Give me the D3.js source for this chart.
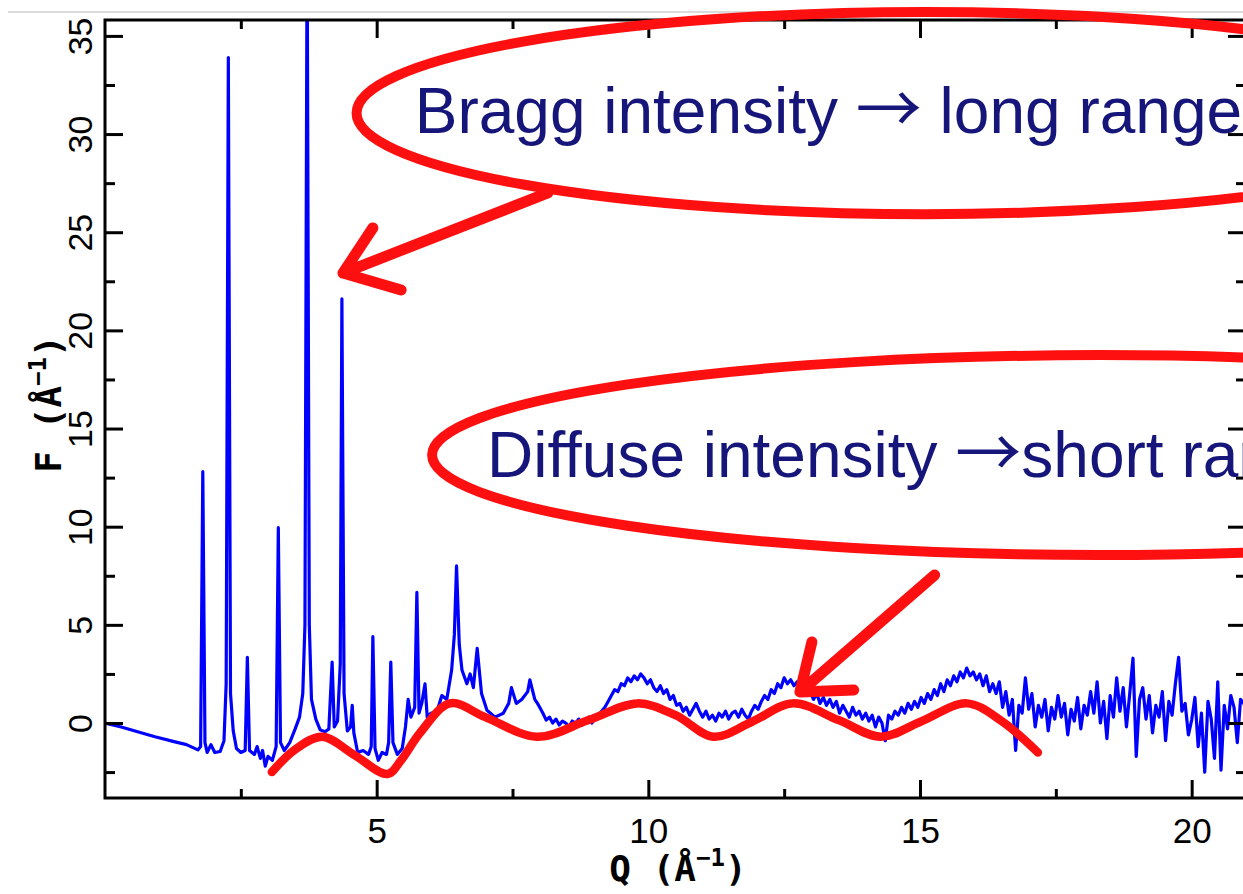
<!DOCTYPE html>
<html>
<head>
<meta charset="utf-8">
<script src="https://cdn.jsdelivr.net/npm/d3@7"></script>
<style>
  html, body { margin: 0; padding: 0; background: #fff; }
  svg { display: block; }
</style>
</head>
<body>
<div id="chart"></div>
<script>
// ---- data ----

// structured low-Q part: [Q, F] pairs (Bragg peaks + baseline)
const lowQ = [
  [0.00, 0.00], [0.30, -0.20], [0.60, -0.45], [0.92, -0.70], [1.29, -0.96], [1.50, -1.10], [1.71, -1.37], [1.76, -1.20],
  [1.80, 12.8], [1.84, -1.00], [1.88, -1.50], [1.95, -1.10], [2.02, -1.50], [2.12, -1.45], [2.19, -0.90], [2.23, 2.0],
  [2.27, 33.9], [2.31, 1.5], [2.36, -0.40], [2.42, -1.30], [2.50, -1.50], [2.58, -1.40], [2.62, 3.35], [2.66, -1.40],
  [2.75, -1.60], [2.80, -1.20], [2.86, -1.80], [2.90, -1.40], [2.95, -2.20], [3.00, -1.70], [3.08, -1.90], [3.15, -1.20],
  [3.19, 9.95], [3.23, -1.00], [3.30, -1.40], [3.40, -1.00], [3.50, -0.30], [3.58, 0.30], [3.64, 1.50], [3.68, 5.0],
  [3.72, 40.0], [3.76, 5.0], [3.80, 1.20], [3.88, 0.20], [3.96, -0.35], [4.05, -0.45], [4.12, -0.30], [4.18, 3.10],
  [4.22, -0.20], [4.28, 0.10], [4.33, 3.0], [4.36, 21.6], [4.40, 1.50], [4.46, -0.40], [4.52, -0.20], [4.55, 0.90],
  [4.58, -0.50], [4.65, -1.50], [4.75, -1.40], [4.85, -1.60], [4.90, -1.20], [4.93, 4.40], [4.97, -1.30], [5.03, -1.90],
  [5.10, -1.50], [5.18, -1.60], [5.22, -1.00], [5.26, 3.10], [5.30, -1.00], [5.38, -1.60], [5.47, -1.30], [5.53, -0.20],
  [5.58, 1.20], [5.63, 0.30], [5.70, 0.80], [5.74, 6.65], [5.78, 0.50], [5.83, 1.00], [5.89, 2.00], [5.93, 0.30],
  [6.00, 0.50], [6.10, 0.50], [6.20, 1.40], [6.29, 1.20], [6.38, 2.70], [6.43, 4.5], [6.47, 8.0], [6.52, 4.0],
  [6.57, 2.70], [6.66, 2.00], [6.72, 2.50], [6.78, 1.80], [6.85, 3.80], [6.93, 1.50], [7.03, 0.65], [7.18, 0.30],
  [7.33, 0.50], [7.43, 1.0], [7.48, 1.80], [7.57, 1.00], [7.67, 1.20], [7.78, 1.6], [7.82, 2.20], [7.91, 1.20],
  [7.96, 1.0]
];

// noisy high-Q part: F values sampled every hiQStep from hiQStart
const hiQStart = 8.0;
const hiQStep = 0.06;
const hiQValues = [
  0.8, 0.5, 0.15, 0.3, 0.0, 0.2, -0.1, 0.1, 0.0, -0.2,
  0.1, 0.0, 0.2, -0.1, 0.1, 0.3, 0.0, 0.2, 0.4, 0.6,
  0.8, 1.1, 1.4, 1.7, 1.6, 2.0, 1.9, 2.3, 2.1, 2.4,
  2.2, 2.5, 2.3, 2.0, 2.2, 1.8, 1.6, 1.9, 1.5, 1.7,
  1.2, 1.4, 0.9, 1.0, 0.6, 0.8, 0.4, 0.7, 1.0, 0.6,
  0.3, 0.6, 0.2, 0.4, 0.1, 0.5, 0.3, 0.6, 0.2, 0.5,
  0.6, 0.3, 0.7, 0.4, 0.2, 0.6, 0.9, 0.7, 1.1, 1.4,
  1.2, 1.7, 1.5, 2.0, 1.8, 2.3, 2.0, 2.2, 1.9, 2.1,
  1.7, 1.9, 1.4, 1.6, 1.2, 1.5, 1.0, 1.3, 0.9, 1.2,
  0.8, 1.1, 0.5, 0.9, 0.6, 0.3, 0.8, 0.4, 0.6, 0.2,
  0.5, 0.1, 0.4, -0.2, 0.3, 0.0, -0.9, 0.4, 0.2, 0.6,
  0.4, 0.8, 0.5, 1.0, 0.7, 1.1, 0.8, 1.3, 1.0, 1.5,
  1.2, 1.7, 1.4, 2.0, 1.6, 2.2, 1.9, 2.4, 2.1, 2.6,
  2.3, 2.8, 2.4, 2.6, 2.2, 2.5, 1.9, 2.4, 1.6, 2.0,
  1.5, 2.1, 0.8, 1.6, 0.4, 1.2, -1.4, 0.9, 0.5, 2.3,
  0.7, 1.5, -0.2, 0.9, 0.3, 1.2, -0.4, 0.8, 0.2, 1.4,
  0.3, 1.0, -0.6, 0.7, 0.1, 1.3, -0.3, 0.9, 0.4, 1.6,
  0.5, 2.1, 0.0, 1.1, -0.8, 1.4, 0.3, 2.3, 0.6, 1.8,
  -0.2, 1.5, 3.3, -1.7, 1.2, 1.8, 0.2, 1.4, -0.5, 0.9,
  0.3, 1.6, -0.9, 1.1, 0.4, 2.0, 3.35, 0.6, 1.0, -0.6,
  0.15, 1.3, -1.2, 0.5, -2.5, 1.1, 0.2, -1.8, 2.1, -2.4,
  0.9, -0.3, 1.4, 0.8, -1.0, 1.2, 1.0, 0.5
];

// hand-drawn red "diffuse" curve: [Q, F]
const diffuseCurve = [
  [3.07, -2.5], [3.5, -1.35], [4.0, -0.7], [4.6, -1.65], [5.2, -2.6], [5.45, -1.9], [5.8, -0.5], [6.35, 1.0],
  [7.0, 0.3], [7.95, -0.7], [8.9, 0.15], [9.8, 1.0], [10.5, 0.4], [11.2, -0.7], [11.9, 0.05], [12.66, 1.0],
  [13.5, 0.15], [14.28, -0.7], [15.0, 0.05], [15.86, 1.0], [16.5, 0.1], [17.17, -1.5]
];

const xMajor = [5, 10, 15, 20];
const xMinor = [2.5, 7.5, 12.5, 17.5];
const yMajor = [0, 5, 10, 15, 20, 25, 30, 35];
const yMinor = [-2.5, 2.5, 7.5, 12.5, 17.5, 22.5, 27.5, 32.5];

// annotations in data units
const annoEllipses = [
  { q: 15.10, f: 31.07, rq: 10.47, rf: 5.15 },
  { q: 18.31, f: 13.65, rq: 12.29, rf: 5.09 }
];
const annoTexts = [
  { q: 5.70, f: 30.06, before: 'Bragg intensity ', after: ' long range' },
  { q: 7.03, f: 12.53, before: 'Diffuse intensity ', after: 'short range' }
];
const annoArrows = [
  { from: [8.15, 27.0], tip: [4.38, 22.92], arms: [[4.93, 25.22], [5.45, 22.06]] },
  { from: [15.27, 7.54], tip: [12.79, 1.58], arms: [[13.01, 4.13], [13.78, 1.68]] }
];

// ---- chart ----
const width = 1243, height = 894;
const plot = { left: 105, top: 20, right: 1246, bottom: 798 };

const svg = d3.select('#chart').append('svg')
  .attr('width', width)
  .attr('height', height);

const x = d3.scaleLinear().domain([0, 21]).range([plot.left, plot.right]);
const y = d3.scaleLinear().domain([-3.82, 35.81]).range([plot.bottom, plot.top]);

// thin grey screenshot edge line at top
svg.append('line')
  .attr('x1', 8).attr('x2', width).attr('y1', 12).attr('y2', 12)
  .attr('stroke', '#cfcfcf').attr('stroke-width', 1.5);

svg.append('clipPath').attr('id', 'plotClip')
  .append('rect')
    .attr('x', plot.left).attr('y', plot.top)
    .attr('width', plot.right - plot.left).attr('height', plot.bottom - plot.top);

// blue measured F(Q)
const bluePoints = lowQ.concat(hiQValues.map((f, i) => [hiQStart + i * hiQStep, f]));
const line = d3.line().x(d => x(d[0])).y(d => y(d[1]));

svg.append('path')
  .datum(bluePoints)
  .attr('clip-path', 'url(#plotClip)')
  .attr('fill', 'none')
  .attr('stroke', '#0000ff')
  .attr('stroke-width', 3.2)
  .attr('stroke-linejoin', 'round')
  .attr('d', line);

// axes with inward ticks
function styleAxis(g) {
  g.select('.domain').remove();
  g.selectAll('.tick line').attr('stroke', '#000').attr('stroke-width', 3);
}
const tickFont = "'Liberation Sans', Arial, sans-serif";

svg.append('g')
  .attr('transform', `translate(0,${plot.bottom})`)
  .call(d3.axisBottom(x).tickValues(xMajor).tickSize(-18).tickPadding(20).tickFormat(d3.format('d')))
  .call(styleAxis)
  .call(g => g.selectAll('text').attr('font-size', 35).attr('font-family', tickFont).attr('fill', '#000'));
svg.append('g')
  .attr('transform', `translate(0,${plot.bottom})`)
  .call(d3.axisBottom(x).tickValues(xMinor).tickSize(-9).tickFormat(''))
  .call(styleAxis);
svg.append('g')
  .attr('transform', `translate(0,${plot.top})`)
  .call(d3.axisTop(x).tickValues(xMajor).tickSize(-18).tickFormat(''))
  .call(styleAxis);
svg.append('g')
  .attr('transform', `translate(0,${plot.top})`)
  .call(d3.axisTop(x).tickValues(xMinor).tickSize(-9).tickFormat(''))
  .call(styleAxis);

svg.append('g')
  .attr('transform', `translate(${plot.left},0)`)
  .call(d3.axisLeft(y).tickValues(yMajor).tickSize(-18).tickFormat(d3.format('d')))
  .call(styleAxis)
  .call(g => g.selectAll('text')
    .attr('font-size', 34).attr('font-family', tickFont).attr('fill', '#000')
    .attr('transform', 'rotate(-90)')
    .attr('x', 0).attr('y', -13).attr('dy', 0)
    .attr('text-anchor', 'middle'));
svg.append('g')
  .attr('transform', `translate(${plot.left},0)`)
  .call(d3.axisLeft(y).tickValues(yMinor).tickSize(-10).tickFormat(''))
  .call(styleAxis);
svg.append('g')
  .attr('transform', `translate(${plot.right},0)`)
  .call(d3.axisRight(y).tickValues(yMajor).tickSize(-18).tickFormat(''))
  .call(styleAxis);
svg.append('g')
  .attr('transform', `translate(${plot.right},0)`)
  .call(d3.axisRight(y).tickValues(yMinor).tickSize(-10).tickFormat(''))
  .call(styleAxis);

// frame
svg.append('rect')
  .attr('x', plot.left).attr('y', plot.top)
  .attr('width', plot.right - plot.left).attr('height', plot.bottom - plot.top)
  .attr('fill', 'none').attr('stroke', '#000').attr('stroke-width', 3);

// axis titles
const titleFont = "'DejaVu Sans Mono', 'Liberation Mono', monospace";
function unitTitle(sel, symbol) {
  sel.attr('font-family', titleFont).attr('font-size', 36).attr('font-weight', 'bold').attr('fill', '#000');
  sel.append('tspan').text(symbol + ' (\u00c5');
  sel.append('tspan').attr('font-size', 24).attr('dy', -15).text('\u22121');
  sel.append('tspan').attr('dy', 15).text(')');
}
svg.append('text')
  .attr('x', 678).attr('y', 881)
  .attr('text-anchor', 'middle')
  .call(unitTitle, 'Q');
svg.append('text')
  .attr('transform', 'translate(61,404) rotate(-90)')
  .attr('text-anchor', 'middle')
  .call(unitTitle, 'F');

// red diffuse curve
svg.append('path')
  .datum(diffuseCurve)
  .attr('fill', 'none')
  .attr('stroke', '#ff1010')
  .attr('stroke-width', 8.5)
  .attr('stroke-linecap', 'round')
  .attr('d', d3.line().curve(d3.curveCatmullRom.alpha(0.5)).x(d => x(d[0])).y(d => y(d[1])));

// annotations
const anno = svg.append('g');
anno.selectAll('ellipse')
  .data(annoEllipses)
  .join('ellipse')
    .attr('cx', d => x(d.q))
    .attr('cy', d => y(d.f))
    .attr('rx', d => x(d.q + d.rq) - x(d.q))
    .attr('ry', d => y(d.f - d.rf) - y(d.f))
    .attr('fill', 'none')
    .attr('stroke', '#ff1010')
    .attr('stroke-width', 10);

anno.selectAll('path.arrow')
  .data(annoArrows)
  .join('path')
    .attr('class', 'arrow')
    .attr('fill', 'none')
    .attr('stroke', '#ff1010')
    .attr('stroke-width', 11)
    .attr('stroke-linecap', 'round')
    .attr('stroke-linejoin', 'round')
    .attr('d', d => {
      const p = ([q, f]) => `${x(q)},${y(f)}`;
      return `M${p(d.from)}L${p(d.tip)}M${p(d.arms[0])}L${p(d.tip)}L${p(d.arms[1])}`;
    });

const labels = anno.selectAll('text')
  .data(annoTexts)
  .join('text')
    .attr('x', d => x(d.q))
    .attr('y', d => y(d.f))
    .attr('font-family', tickFont)
    .attr('font-size', 64)
    .attr('fill', '#15157a');
labels.append('tspan').text(d => d.before);
labels.append('tspan')
  .attr('font-family', "'Noto Sans CJK SC', 'DejaVu Sans', sans-serif")
  .attr('font-size', 66)
  .text('\u2192');
labels.append('tspan').text(d => d.after);
</script>
</body>
</html>
